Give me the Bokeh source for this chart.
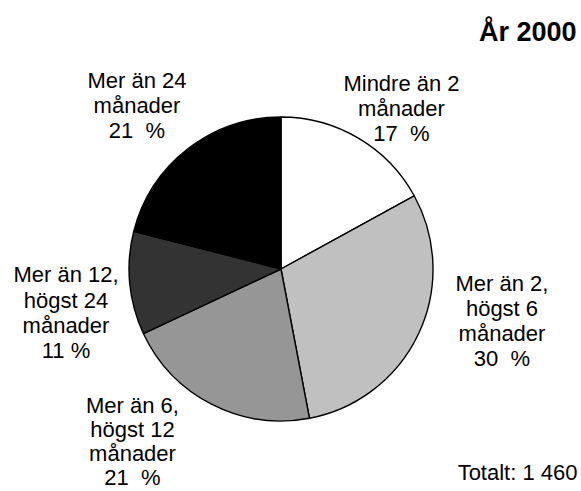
import math
from bokeh.plotting import figure
from bokeh.models import Range1d, ColumnDataSource
from bokeh.core.properties import value
from bokeh.embed import file_html
from bokeh.resources import INLINE

# ---- data ----
categories = [
    "Mindre än 2\nmånader",
    "Mer än 2,\nhögst 6\nmånader",
    "Mer än 6,\nhögst 12\nmånader",
    "Mer än 12,\nhögst 24\nmånader",
    "Mer än 24\nmånader",
]
shares = [17, 30, 21, 11, 21]
share_labels = ["17  %", "30  %", "21  %", "11 %", "21  %"]
title_text = "År 2000"
total_text = "Totalt: 1 460"

# ---- styles / layout ----
colors = ["#FFFFFF", "#C0C0C0", "#969696", "#333333", "#000000"]
FONT = "Liberation Sans"
W, H = 581, 491
TEXT_DY = 7.5  # rendered text sits lower than its anchor; compensate


def Y(py):
    return H - py


def TY(py):
    return H - (py - TEXT_DY)


cx, cy, R = 280.5, Y(268.5), 152
label_x = [401, 501.5, 132, 65.5, 136.5]
label_first_baseline = [90, 290.7, 412.5, 281.7, 87.3]
label_line_h = [25.0, 25.0, 24.0, 25.3, 25.3]

p = figure(width=W, height=H, output_backend="svg", toolbar_location=None,
           x_range=Range1d(0, W), y_range=Range1d(0, H),
           min_border=0, x_axis_location=None, y_axis_location=None)
p.grid.visible = False
p.outline_line_color = None
p.background_fill_color = "white"
p.border_fill_color = "white"

total = sum(shares)
starts, ends = [], []
c = 0.0
for v in shares:
    starts.append(math.pi / 2 - 2 * math.pi * c / total)
    c += v
    ends.append(math.pi / 2 - 2 * math.pi * c / total)

src = ColumnDataSource(dict(start=starts, end=ends, color=colors,
                            cat=categories, share=shares))
p.wedge(x=cx, y=cy, radius=R, radius_units="screen", start_angle="start",
        end_angle="end", direction="clock", fill_color="color",
        line_color="black", line_width=1.4, source=src)

tx, ty, tt = [], [], []
for i, (cat, sl) in enumerate(zip(categories, share_labels)):
    lines = cat.split("\n") + [sl.replace("  ", " \u00a0")]
    for k, line in enumerate(lines):
        tx.append(label_x[i])
        ty.append(TY(label_first_baseline[i] + k * label_line_h[i]))
        tt.append(line)
p.text(x=tx, y=ty, text=tt, text_font=value(FONT), text_font_size="22px",
       text_align="center", text_baseline="alphabetic", text_color="black")

p.text(x=[576], y=[TY(39.3)], text=[title_text], text_font=value(FONT),
       text_font_size="27px", text_font_style="bold", text_align="right",
       text_baseline="alphabetic", text_color="black")
p.text(x=[577], y=[TY(479.3)], text=[total_text], text_font=value(FONT),
       text_font_size="22px", text_align="right", text_baseline="alphabetic",
       text_color="black")

open("out.html", "w").write(file_html(p, INLINE))
